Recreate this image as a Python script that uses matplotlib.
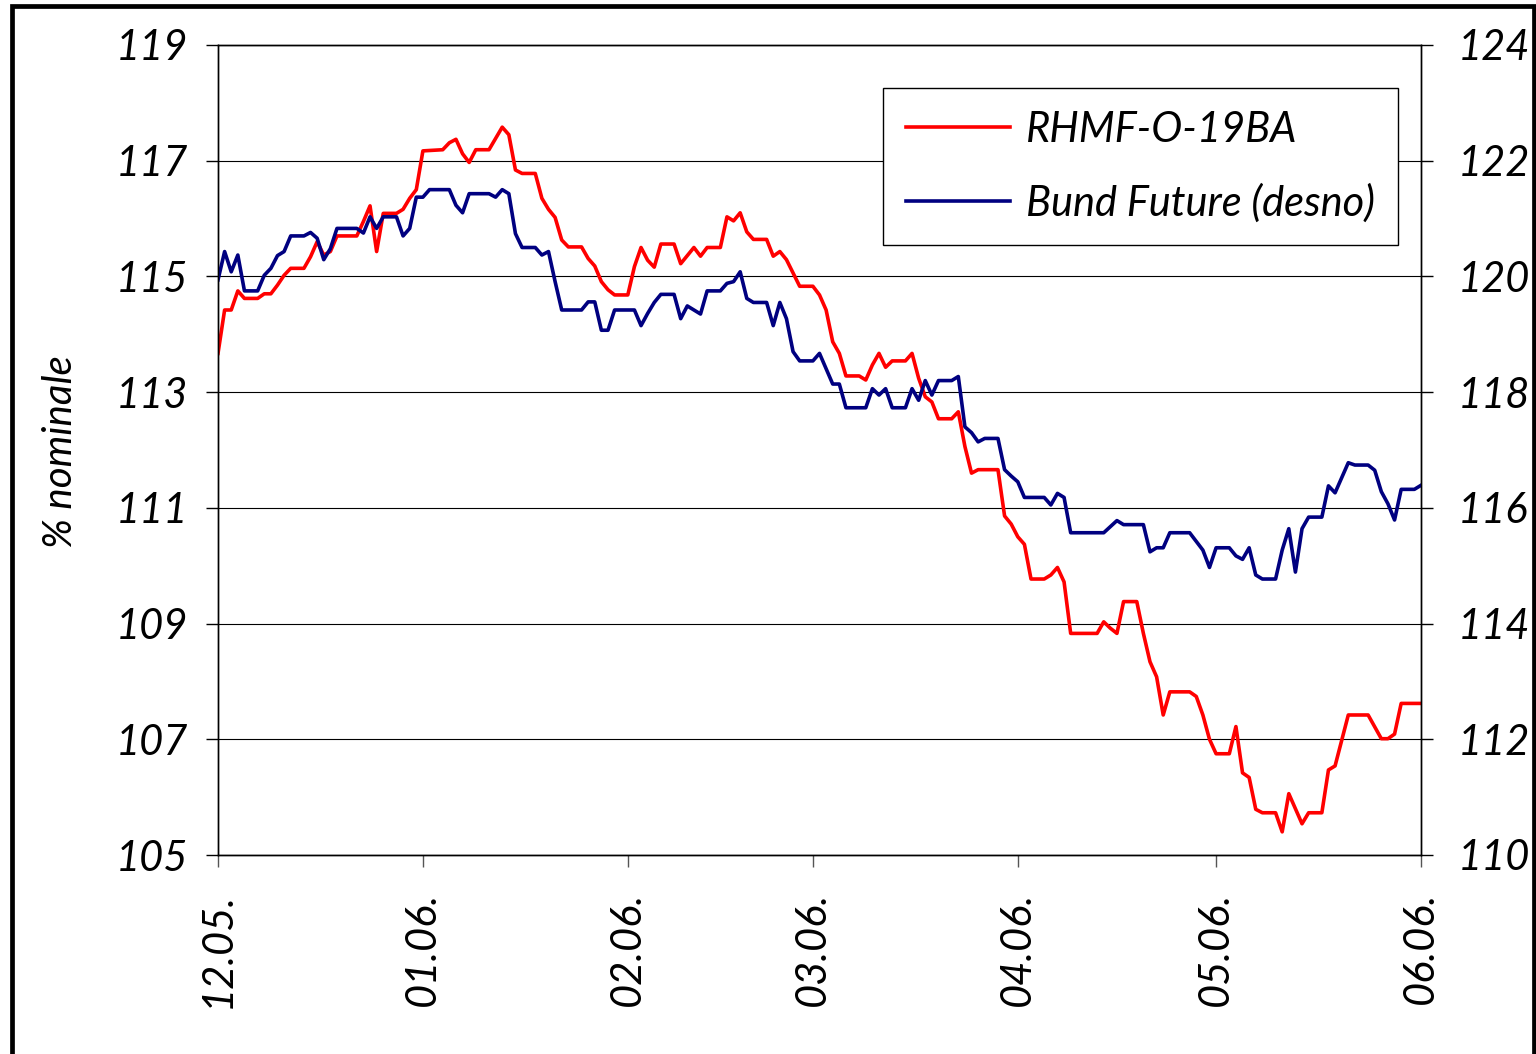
import matplotlib
matplotlib.use("Agg")
import matplotlib.pyplot as plt
import matplotlib.dates as mdates
from matplotlib.patches import Rectangle
import pandas as pd

plt.rcParams['font.family'] = ['Lato', 'DejaVu Sans']

start_date = "2005-12-01"

red_day = [0,1,2,3,4,6,7,8,9,10,11,13,14,15,16,17,18,21,22,23,24,25,27,28,29,30,31,34,35,36,
           37,38,39,41,43,44,45,46,48,49,50,51,52,53,55,56,57,58,59,60,62,63,64,65,66,67,69,70,72,73,
           74,76,77,78,79,80,81,83,84,85,86,88,90,91,92,93,94,95,97,98,99,100,101,102,104,105,106,107,108,109,
           111,112,113,114,115,118,119,120,121,122,123,125,126,127,128,129,133,134,135,136,137,139,140,141,142,
           143,144,147,148,149,150,151,153,154,155,156,157,158,160,161,162,164,165,167,168,169,171,174,176,177,
           178,179,182]
red_val = [113.67,114.42,114.42,114.75,114.62,114.62,114.70,114.70,114.85,115.02,
           115.14,115.14,115.34,115.60,115.37,115.43,115.70,115.70,115.95,116.22,
           115.43,116.09,116.09,116.16,116.35,116.50,117.17,117.19,117.31,117.37,
           117.12,116.97,117.19,117.19,117.58,117.45,116.84,116.78,116.78,116.35,
           116.16,116.02,115.63,115.51,115.51,115.31,115.18,114.91,114.77,114.68,
           114.68,115.17,115.50,115.28,115.16,115.56,115.56,115.22,115.50,115.35,
           115.50,115.50,116.03,115.96,116.10,115.77,115.64,115.64,115.35,115.43,
           115.29,114.83,114.83,114.68,114.42,113.87,113.67,113.28,113.28,113.21,
           113.47,113.67,113.43,113.54,113.54,113.67,113.24,112.92,112.83,112.54,
           112.54,112.66,112.06,111.60,111.66,111.66,110.86,110.72,110.50,110.37,
           109.77,109.77,109.84,109.97,109.72,108.83,108.83,109.03,108.92,108.83,
           109.38,109.38,108.83,108.34,108.08,107.42,107.82,107.82,107.74,107.42,
           107.00,106.75,106.75,107.22,106.42,106.34,105.79,105.73,105.73,105.40,
           106.06,105.54,105.73,105.73,106.47,106.54,107.42,107.42,107.01,107.01,
           107.09,107.62,107.62]

blue_day = [0,1,2,3,4,6,7,8,9,10,11,13,14,15,16,17,18,21,22,23,24,25,27,28,29,30,31,32,35,36,
            37,38,41,42,43,44,45,46,48,49,50,51,52,55,56,57,58,59,60,63,64,65,66,67,69,70,71,73,74,76,
            77,78,79,80,81,83,84,85,86,87,88,90,91,93,94,95,98,99,100,101,102,104,105,106,107,108,109,
            111,112,113,114,115,116,118,119,120,121,122,125,126,127,128,129,134,136,137,140,141,142,143,
            144,147,149,150,151,153,154,155,156,157,158,160,161,162,163,164,165,167,168,169,171,172,174,
            175,176,177,178,179,181,182]
blue_val = [119.94,120.43,120.08,120.37,119.75,119.75,120.02,120.14,120.36,120.43,
            120.70,120.70,120.76,120.66,120.29,120.48,120.83,120.83,120.75,121.03,
            120.83,121.03,121.03,120.70,120.83,121.37,121.37,121.50,121.50,121.23,
            121.10,121.43,121.43,121.37,121.50,121.43,120.74,120.50,120.50,120.37,
            120.43,119.91,119.42,119.42,119.56,119.56,119.07,119.07,119.42,119.42,
            119.15,119.36,119.55,119.69,119.69,119.27,119.49,119.35,119.75,119.75,
            119.88,119.91,120.08,119.62,119.55,119.55,119.15,119.55,119.27,118.70,
            118.54,118.54,118.67,118.14,118.14,117.73,117.73,118.06,117.95,118.06,
            117.73,117.73,118.06,117.86,118.20,117.95,118.20,118.20,118.27,117.40,
            117.30,117.14,117.20,117.20,116.66,116.55,116.45,116.18,116.18,116.05,
            116.25,116.18,115.57,115.57,115.78,115.71,115.71,115.24,115.31,115.31,
            115.57,115.57,115.27,114.97,115.31,115.31,115.17,115.11,115.31,114.84,
            114.77,114.77,115.27,115.64,114.89,115.64,115.84,115.84,116.38,116.26,
            116.78,116.74,116.74,116.65,116.28,116.07,115.79,116.32,116.32,116.39]

tick_dates = ["2005-12-01", "2006-01-01", "2006-02-01", "2006-03-01",
              "2006-04-01", "2006-05-01", "2006-06-01"]
tick_labels = ["12.05.", "01.06.", "02.06.", "03.06.", "04.06.", "05.06.", "06.06."]
left_ticks = [105, 107, 109, 111, 113, 115, 117, 119]
right_ticks = [110, 112, 114, 116, 118, 120, 122, 124]
series_names = ["RHMF-O-19BA", "Bund Future (desno)"]
y_label = "% nominale"

start = pd.Timestamp(start_date)
red_x = start + pd.to_timedelta(red_day, unit="D")
blue_x = start + pd.to_timedelta(blue_day, unit="D")
tick_x = pd.to_datetime(tick_dates)

W, H = 1536, 1054
fig = plt.figure(figsize=(W / 100, H / 100), dpi=100)
ax = fig.add_axes([218 / W, 1 - 855 / H, (1421 - 218) / W, (855 - 45) / H])
ax2 = ax.twinx()

FS = 30
tick_len = 8.6

ax.set_xlim(tick_x[0], tick_x[-1])
ax.set_ylim(left_ticks[0], left_ticks[-1])
ax2.set_ylim(right_ticks[0], right_ticks[-1])

ax.set_yticks(left_ticks)
ax.set_yticklabels([str(t) for t in left_ticks], fontsize=FS, style='italic')
ax2.set_yticks(right_ticks)
ax2.set_yticklabels([str(t) for t in right_ticks], fontsize=FS, style='italic')
ax.set_xticks(tick_x)
ax.set_xticklabels(tick_labels, fontsize=FS, style='italic', rotation=90)

ax.tick_params(axis='y', direction='out', length=tick_len, width=1, pad=13)
ax2.tick_params(axis='y', direction='out', length=tick_len, width=1, pad=18)
ax.tick_params(axis='x', direction='out', length=tick_len, width=1, pad=18, color='#555555')

ax.grid(axis='y', color='black', linewidth=0.8)
ax.set_axisbelow(True)
for a in (ax, ax2):
    for s in a.spines.values():
        s.set_linewidth(1.0)
        s.set_color('black')

l1, = ax.plot(red_x, red_val, color='#FF0000', linewidth=2.6, label=series_names[0])
l2, = ax2.plot(blue_x, blue_val, color='#000080', linewidth=2.6, label=series_names[1])

leg = ax2.legend([l1, l2], series_names, loc='upper right',
                 bbox_to_anchor=((1398 - 218) / (1421 - 218), (855 - 88) / (855 - 45)),
                 borderaxespad=0, prop={'style': 'italic', 'size': FS},
                 frameon=True, fancybox=False, framealpha=1, edgecolor='black',
                 handlelength=2.5, handletextpad=0.38, labelspacing=0.82, borderpad=0.55)
leg.get_frame().set_linewidth(1.0)
for ln in leg.get_lines():
    ln.set_linewidth(2.6)

fig.text(61 / W, 1 - 452 / H, y_label, rotation=90, ha='center', va='center',
         fontsize=29, style='italic')

fig.patches.append(Rectangle((12 / W, -0.02), (1534 - 12) / W, 1.02 - 6 / H,
                             transform=fig.transFigure, fill=False,
                             edgecolor='black', linewidth=3.4, zorder=10))

fig.savefig("out.png", dpi=100)
